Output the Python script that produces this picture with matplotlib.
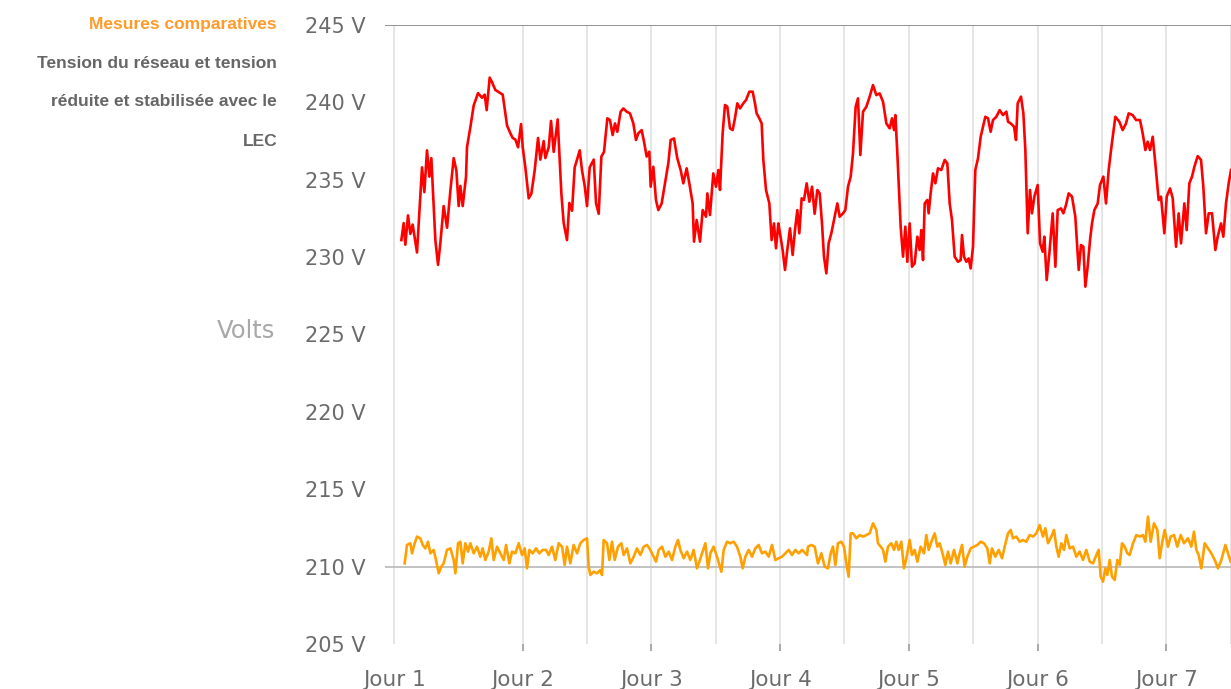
import matplotlib
matplotlib.use("Agg")
import matplotlib.pyplot as plt
import numpy as np

# ---- data: time in hours since the start of "Jour 1", voltage in volts ----
reseau_h = [1.37, 1.80, 2.11, 2.61, 3.05, 3.48, 4.29, 5.22, 5.66, 6.15, 6.59, 6.96, 7.71, 8.21, 8.64,
            9.26, 9.89, 10.51, 11.13, 11.63, 12.06, 12.37, 12.81, 13.43, 13.61, 14.24, 14.86, 15.67,
            16.41, 16.91, 17.28, 17.84, 18.28, 18.90, 19.83, 20.27, 21.08, 21.70, 22.13, 22.63, 23.13,
            23.69, 24.00, 24.49, 25.12, 25.61, 26.23, 26.86, 27.29, 27.91, 28.22, 28.85, 29.28, 29.78,
            30.52, 31.21, 31.64, 32.26, 32.70, 33.20, 33.69, 34.13, 34.63, 35.06, 35.56, 35.99, 36.49,
            37.24, 37.67, 38.17, 38.67, 39.16,
            39.78, 40.27, 40.77, 41.21, 41.64, 42.26, 42.76, 43.38, 44.00, 44.63, 45.12, 45.56, 46.18,
            46.62, 47.11, 47.61, 47.86, 48.36, 48.85, 49.29, 49.91, 50.53, 51.15, 51.59, 52.21, 52.83,
            53.45, 53.95, 54.57, 55.07, 55.69, 55.94, 56.44, 57.06, 57.56, 58.18, 58.43, 58.92, 59.54,
            60.04, 60.48, 60.79, 61.28, 61.72, 62.15, 62.65, 63.15, 63.58, 64.02, 64.52, 65.14, 65.64,
            66.26, 66.88, 67.31, 67.62, 68.12, 68.56, 68.87, 69.37, 69.99, 70.42, 70.86, 71.23, 71.67,
            71.98, 72.47, 72.91, 73.34, 73.84, 74.34, 74.77, 75.21, 75.58, 76.02, 76.45, 76.95, 77.45,
            77.95, 78.44, 78.94, 79.38, 79.81, 80.18, 80.62, 81.05, 81.55, 82.05, 82.67, 83.11, 83.73,
            84.16, 84.66, 85.16, 85.59, 86.09, 86.52, 86.96, 87.46, 88.08, 88.70, 89.32, 89.94, 90.56,
            91.19, 91.81, 92.43, 92.86, 93.24, 93.49, 93.86, 94.48, 94.92, 95.35, 95.72, 96.16, 96.59,
            97.09, 97.59, 98.02, 98.33, 98.65, 98.96, 99.45, 99.70, 100.07, 100.51, 100.95, 101.44,
            102.06, 102.69, 103.18, 103.62, 104.05, 104.55, 105.17, 105.67, 105.92, 106.29, 106.73,
            107.16, 107.53, 107.97, 108.40, 108.90, 109.40, 109.83, 110.27, 110.77, 111.26, 111.70,
            112.32, 112.94, 113.56, 114.19, 114.50, 115.00, 115.62,
            115.99, 116.30, 116.92, 117.36, 117.73, 118.17, 118.60, 118.97, 119.41, 120.03, 120.47,
            120.96, 121.27, 121.71, 122.21, 122.83, 123.33, 123.76, 124.38, 124.82, 125.31, 125.81,
            126.43, 127.05, 127.68, 128.11, 128.55, 128.92, 129.35, 129.79, 130.16, 130.60, 131.22,
            131.65, 132.28, 132.77, 133.27, 133.71, 134.51, 135.26, 135.88, 136.50, 137.00, 137.75,
            138.37, 139.11, 139.61, 140.11, 140.54, 140.98, 141.48, 141.97, 142.59, 143.03, 143.65,
            144.09, 144.71, 145.21, 145.83, 146.32, 146.76, 147.38, 147.82, 148.31, 148.81, 149.25,
            149.87, 150.49, 150.92, 151.42, 151.92, 152.54, 153.16, 153.60, 154.22, 154.65, 155.15,
            155.65, 156.08]
reseau_v = [231.1, 232.2, 230.8, 232.7, 231.5, 232.1, 230.3, 235.8, 234.2, 236.9, 235.2, 236.4, 231.1,
            229.5, 230.9, 233.3, 231.9, 234.3, 236.4, 235.6, 233.3, 234.6, 233.3, 235.2, 237.1, 238.4,
            239.8, 240.6, 240.3, 240.5, 239.5, 241.6, 241.3, 240.8, 240.6, 240.5, 238.5, 238.0, 237.7,
            237.6, 237.1, 238.6, 237.1, 235.8, 233.8, 234.1, 235.6, 237.7, 236.3, 237.5, 236.4, 237.1,
            238.8, 236.8, 238.9, 234.1, 232.2, 231.1, 233.5, 233.0, 235.8, 236.3, 236.9, 235.6, 234.6,
            233.3, 235.8, 236.3, 233.5, 232.8, 236.5, 236.8,
            238.97, 238.86, 237.89, 238.64, 238.10, 239.40, 239.61, 239.40, 239.29, 238.64, 237.57,
            238.0, 238.21, 237.46, 236.5, 236.81, 234.55, 235.84, 233.69, 233.04, 233.47, 234.77,
            236.06, 237.57, 237.67, 236.38, 235.63, 234.77, 235.74, 234.77, 233.47, 231.0, 232.40,
            231.0, 233.04, 232.61, 234.12, 232.72, 235.41, 234.55, 235.63, 234.34, 238.0, 239.83,
            239.72, 238.32, 238.21, 238.97, 239.94, 239.61, 239.94, 240.15, 240.69, 240.69, 239.94,
            239.29, 238.97, 238.64, 236.28, 234.34, 233.47, 231.1, 232.18, 230.57, 232.18, 231.54,
            230.46, 229.17, 230.46, 231.86, 230.14, 231.75, 233.04, 231.54, 233.8, 233.69, 234.77,
            233.58,
            234.55, 232.8, 234.34, 234.12, 232.18, 230.03, 228.95, 230.89, 231.54, 232.40, 233.47,
            232.61, 232.83, 233.04, 234.55, 235.20, 236.70, 239.72, 240.26, 236.60, 239.40, 239.72,
            240.37, 241.12, 240.47, 240.58, 240.04, 238.64, 238.32, 238.97, 238.21, 239.18, 236.70,
            231.97, 230.03, 231.97, 229.70, 232.18, 229.38, 229.60, 231.32, 230.46, 231.75, 229.81,
            233.47, 233.69, 232.83, 234.12, 235.41, 234.77, 235.74, 235.63, 236.28, 236.06, 233.47,
            232.40, 230.03, 229.70, 229.81, 231.43, 230.03, 229.70, 229.92, 229.27, 230.67, 235.63,
            236.38, 237.78, 238.43, 239.07, 238.97, 238.10, 238.86, 239.07, 239.50, 239.18, 239.40,
            238.75, 238.64, 238.43,
            237.57, 239.94, 240.37, 239.29, 236.92, 231.54, 234.34, 232.83, 233.91, 234.66, 230.89,
            230.35, 231.32, 228.52, 230.24, 232.83, 229.38, 233.04, 233.15, 232.83, 233.37, 234.12,
            233.91, 232.61, 229.17, 230.78, 230.67, 228.09, 229.38, 231.10, 232.18, 233.04, 233.47,
            234.66, 235.20, 233.47, 235.63, 236.92, 239.07, 238.75, 238.21, 238.64, 239.29, 239.18,
            238.86, 238.86, 238.0, 236.92, 237.46, 236.92, 237.78, 236.06, 233.69, 233.91, 231.54,
            233.91, 234.44, 233.80, 230.67, 232.83, 230.89, 233.47, 231.75, 234.77, 235.20, 235.84,
            236.53, 236.28, 234.55, 231.54, 232.83, 232.83, 230.46, 231.32, 232.18, 231.32, 233.47,
            234.77, 235.63]

lec_h = [1.99, 2.42, 3.05, 3.36, 3.85, 4.29, 4.91, 5.35, 5.84, 6.34, 6.78, 7.40, 7.83, 8.33, 8.83, 9.26,
         9.88, 10.51, 11.13, 11.44, 11.94, 12.37, 12.81, 13.30, 13.80, 14.24, 14.86, 15.48, 16.10, 16.53,
         17.03, 17.65, 18.15, 18.59, 19.21, 19.83, 20.45, 20.89, 21.51, 22.01, 22.63, 23.25, 23.87, 24.37,
         24.80, 25.24, 25.86, 26.48, 27.10, 27.72, 28.35, 28.84, 29.46, 30.08, 30.71, 31.33, 31.83, 32.26,
         32.88, 33.50, 34.13, 34.75, 35.37, 35.99, 36.30, 36.61, 37.23, 37.86, 38.48, 38.79, 39.10, 39.72,
         40.16, 40.65, 41.15, 41.77, 42.39, 42.83, 43.45, 44.07, 44.69, 45.31, 45.94, 46.56, 47.18, 47.80,
         48.42, 48.86, 49.35, 49.98, 50.60, 51.22, 51.84, 52.46, 52.96, 53.40, 54.02, 54.64, 55.26, 55.88,
         56.50, 56.94, 57.44, 58.06, 58.56, 58.99, 59.61, 60.23, 61.04, 61.48, 62.10, 62.72, 63.34, 63.96,
         64.58, 65.02, 65.52, 66.14, 66.76, 67.38, 68.00, 68.62, 69.25, 69.87, 70.49, 71.11, 71.73, 72.36,
         72.98, 73.60, 74.22, 74.84, 75.46, 76.09, 77.02,
         77.20, 77.82, 78.44, 79.06, 79.69, 80.31, 80.93, 81.43, 81.86, 82.30, 82.79, 83.42, 83.91, 84.35,
         84.78, 85.16, 85.59, 86.21, 86.84, 87.46, 88.08, 88.70, 89.32, 89.94, 90.25, 90.75, 91.19, 91.62,
         92.12, 92.74, 93.24, 93.67, 94.11, 94.60, 95.10, 95.54, 96.16, 96.59, 97.09, 97.59, 98.21, 98.83,
         99.27, 99.70, 100.32, 100.82, 101.32, 101.75, 102.37, 102.81, 103.31, 103.80, 104.43, 105.05,
         105.48, 105.92, 106.41, 106.91, 107.53, 108.16, 108.78, 109.40, 110.02, 110.64, 111.08, 111.51,
         112.13, 112.76, 113.38, 113.87, 114.50, 114.99, 115.43, 116.05, 116.67, 117.29, 117.91, 118.54,
         119.16, 119.78, 120.40, 121.02, 121.46, 121.96, 122.58, 123.07, 123.51, 123.94, 124.44, 124.94,
         125.37, 125.99, 126.62, 127.24, 127.86, 128.48, 129.10, 129.73, 130.35, 130.97, 131.40, 131.78,
         132.21, 132.65, 133.02, 133.46, 133.89, 134.39, 134.88, 135.32, 135.76, 136.25, 136.75, 137.18,
         137.81, 138.43, 139.05, 139.67, 140.11, 140.60, 141.10, 141.72, 142.34, 142.78, 143.22, 143.71,
         144.33, 144.83, 145.45, 146.07, 146.70, 147.32, 148.06, 148.68, 149.18, 149.62, 150.05, 150.55,
         151.17, 151.79, 152.41, 153.04, 153.66, 154.28, 155.03, 155.52, 156.02]
lec_v = [210.21, 211.40, 211.51, 210.86, 211.51, 211.94, 211.83, 211.40, 211.18, 211.61, 210.86, 211.08,
         210.43, 209.57, 210.0, 210.21, 211.08, 211.18, 210.43, 209.57, 211.51, 211.61, 210.21, 211.51,
         210.97, 211.51, 210.86, 211.29, 210.64, 211.18, 210.43, 210.97, 211.83, 210.43, 211.29, 210.86,
         210.43, 211.40, 210.21, 210.97, 210.86, 211.51, 210.75, 211.18, 209.89, 211.08, 210.86, 211.18,
         210.86, 211.08, 211.08, 210.75, 211.29, 210.43, 211.51, 211.29, 210.11, 211.29, 210.21, 211.40,
         210.86, 211.51, 211.72, 211.83, 210.0, 209.46, 209.67, 209.57, 209.78, 209.46, 211.72, 211.51,
         210.43, 211.61, 210.43, 211.29, 211.51, 210.75, 211.18, 210.21, 210.64, 211.18, 210.75, 211.29,
         211.40, 211.08, 210.64, 210.32, 211.08, 211.29, 210.64, 210.97, 210.43, 211.29, 211.72, 211.08,
         210.54, 210.97, 210.43, 211.08, 209.89, 210.32, 210.86, 211.51, 209.89, 210.86, 211.29, 210.64,
         209.67, 211.08, 211.61, 211.51, 211.61, 211.29, 210.64, 209.89, 210.64, 211.08, 210.64, 211.18,
         211.40, 210.86, 210.97, 210.64, 211.40, 210.43, 210.54, 210.64, 210.86, 211.08, 210.75, 211.08,
         210.86, 211.08, 210.75,
         211.29, 211.40, 211.29, 210.21, 210.86, 210.0, 209.89, 210.86, 211.29, 210.11, 211.51, 211.61,
         211.29, 210.21, 209.35, 212.15, 212.15, 211.83, 212.04, 211.94, 212.04, 212.15, 212.80, 212.37,
         211.51, 211.29, 211.08, 210.32, 211.29, 211.51, 211.08, 211.61, 211.08, 211.61, 209.89, 210.54,
         211.72, 210.75, 211.08, 210.32, 211.29, 210.86, 212.04, 211.08, 211.72, 212.15, 211.29, 211.51,
         210.75, 210.11, 210.97, 210.21, 211.08, 210.21, 210.86, 211.40, 210.0, 210.64, 211.18, 211.29,
         211.40, 211.61, 211.51, 211.18, 210.21, 211.18, 210.64, 211.08, 210.54, 211.29, 212.15, 212.37,
         211.83, 211.94, 211.61, 211.72, 211.61, 212.04, 211.94, 212.15, 212.69, 211.94, 212.48, 211.51,
         211.94, 212.37, 211.29, 210.64, 211.51, 211.08, 212.04, 211.18, 211.29, 210.64, 210.97, 210.43,
         211.08, 210.32, 210.21, 210.75, 211.08, 209.35, 209.03, 209.89, 209.46, 210.43, 209.35, 209.14,
         210.43, 210.11, 211.51, 211.29, 210.86, 210.75, 211.51, 212.04, 211.94, 212.04, 211.61, 213.23,
         211.61, 212.80, 212.37, 210.54, 211.51, 212.37, 211.29, 211.94, 212.04, 211.29, 212.04, 211.51,
         211.83, 211.29, 212.26, 211.08, 210.75, 209.89, 211.51, 211.18, 210.86, 210.43, 209.89, 210.43,
         211.40, 210.86, 210.32]

day_ticks = [1, 2, 3, 4, 5, 6, 7]
day_labels = ["Jour 1", "Jour 2", "Jour 3", "Jour 4", "Jour 5", "Jour 6", "Jour 7"]
grid_days = [1, 2, 2.5, 3, 3.5, 4, 4.5, 5, 5.5, 6, 6.5, 7, 7.5]
y_ticks = [205, 210, 215, 220, 225, 230, 235, 240, 245]
y_labels = [f"{v} V" for v in y_ticks]

title_lines = ["Tension du réseau et tension", "réduite et stabilisée avec le", "LEC"]

# ---- figure ----
W, H = 1231, 689
fig = plt.figure(figsize=(W / 100, H / 100), dpi=100)
ax = fig.add_axes([385 / W, 1 - 644 / H, 1 - 385 / W, (644 - 25) / H])

x_red = 1 + np.array(reseau_h) / 24.0
x_org = 1 + np.array(lec_h) / 24.0

for g in grid_days:
    ax.axvline(g, color="#e3e3e3", lw=1.3, zorder=0)
ax.axhline(245, color="#8a8a8a", lw=1.3, zorder=1)
ax.axhline(210, color="#bdbdbd", lw=1.3, zorder=1)

ax.plot(x_red, reseau_v, color="#ff0000", lw=1.9, zorder=3)
ax.plot(x_org, lec_v, color="#ffa000", lw=1.9, zorder=3)

ax.set_xlim(1 + (-1.68) / 24.0, 1 + 156.08 / 24.0)
ax.set_ylim(205, 245)
for s in ax.spines.values():
    s.set_visible(False)

ax.set_yticks(y_ticks)
ax.set_yticklabels(y_labels)
ax.tick_params(axis="y", length=0, pad=14, labelsize=15, labelcolor="#6b6b6b")

ax.xaxis.remove_overlapping_locs = False
ax.set_xticks(day_ticks)
ax.set_xticklabels(day_labels)
ax.tick_params(axis="x", which="major", length=0, pad=18.5, labelsize=15.5, labelcolor="#6b6b6b")
ax.set_xticks(day_ticks[1:], minor=True)
ax.tick_params(axis="x", which="minor", length=5, width=1.2, color="#9a9a9a", pad=0)
for lab in ax.get_xticklabels():
    lab.set_fontfamily("DejaVu Sans")
for lab in ax.get_yticklabels():
    lab.set_fontfamily("DejaVu Sans")

# left-hand texts
fig.text(277 / W, 1 - 25 / H, "Mesures comparatives", ha="right", va="center",
         fontsize=12.5, fontweight="bold", color="#ff9b2b", family="Liberation Sans")
for i, line in enumerate(title_lines):
    fig.text(277 / W, 1 - (63 + 39 * i) / H, line, ha="right", va="center",
             fontsize=12.5, fontweight="bold", color="#666666", family="Liberation Sans")
fig.text(275 / W, 1 - 331 / H, "Volts", ha="right", va="center",
         fontsize=17.5, color="#a8a8a8", family="DejaVu Sans")

fig.savefig("out.png", dpi=100)
